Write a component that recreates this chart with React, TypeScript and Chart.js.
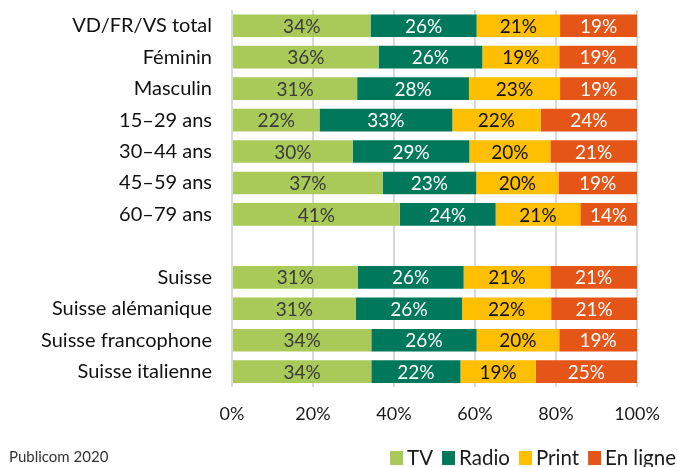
import React, { useEffect, useRef } from "react";
import { Chart, registerables } from "chart.js";

Chart.register(...registerables);

const categories = [
  "VD/FR/VS total",
  "Féminin",
  "Masculin",
  "15–29 ans",
  "30–44 ans",
  "45–59 ans",
  "60–79 ans",
  "",
  "Suisse",
  "Suisse alémanique",
  "Suisse francophone",
  "Suisse italienne",
];

const tv = [34.2, 36.2, 30.9, 21.6, 29.8, 37.2, 41.4, null, 31.0, 30.6, 34.4, 34.4];
const radio = [26.2, 25.6, 27.6, 32.8, 28.8, 23.1, 23.7, null, 26.2, 26.2, 26.0, 22.0];
const print = [20.6, 19.0, 22.5, 21.8, 20.0, 20.3, 20.9, null, 21.4, 22.0, 20.4, 18.6];
const online = [19.0, 19.2, 19.0, 23.8, 21.4, 19.4, 14.0, null, 21.4, 21.2, 19.2, 25.0];

const seriesNames = ["TV", "Radio", "Print", "En ligne"];
const seriesColors = ["#A9CA59", "#00785B", "#FDBF00", "#E65518"];
const labelColors = ["#3a3a3a", "#ffffff", "#111111", "#ffffff"];
const xTicks = [0, 20, 40, 60, 80, 100];
const sourceText = "Publicom 2020";

const FONT = "Lato, 'Noto Sans', sans-serif";

const valueLabelPlugin = {
  id: "valueLabels",
  afterDatasetsDraw(chart: any) {
    const ctx = chart.ctx;
    ctx.save();
    ctx.font = `19px ${FONT}`;
    ctx.textAlign = "center";
    ctx.textBaseline = "middle";
    chart.data.datasets.forEach((ds: any, di: number) => {
      const meta = chart.getDatasetMeta(di);
      meta.data.forEach((el: any, i: number) => {
        const v = ds.data[i];
        if (v == null) return;
        const cx = (el.x + el.base) / 2;
        ctx.fillStyle = labelColors[di];
        ctx.fillText(Math.round(v) + "%", cx, el.y + 1);
      });
    });
    ctx.restore();
  },
};

const footerPlugin = {
  id: "footer",
  afterDraw(chart: any) {
    const ctx = chart.ctx;
    ctx.save();
    ctx.font = `15px ${FONT}`;
    ctx.fillStyle = "#333333";
    ctx.textAlign = "left";
    ctx.textBaseline = "alphabetic";
    ctx.fillText(sourceText, 9, 462);
    ctx.font = `20.5px ${FONT}`;
    const box = 13;
    const gap = 4;
    const itemGap = 9;
    const widths = seriesNames.map((n) => ctx.measureText(n).width);
    const total = widths.reduce((a, w) => a + box + gap + w, 0) + itemGap * (seriesNames.length - 1);
    let x = 676 - total;
    seriesNames.forEach((n, i) => {
      ctx.fillStyle = seriesColors[i];
      ctx.fillRect(x, 451, box, 14);
      x += box + gap;
      ctx.fillStyle = "#1a1a1a";
      ctx.fillText(n, x, 465);
      x += widths[i] + itemGap;
    });
    ctx.restore();
  },
};

export default function App() {
  const ref = useRef<HTMLCanvasElement | null>(null);
  useEffect(() => {
    if (!ref.current) return;
    const allSeries = [tv, radio, print, online];
    const chart = new Chart(ref.current, {
      type: "bar",
      data: {
        labels: categories,
        datasets: allSeries.map((d, i) => ({
          label: seriesNames[i],
          data: d as any,
          backgroundColor: seriesColors[i],
          borderWidth: 0,
          barPercentage: 0.9,
          categoryPercentage: 0.8,
        })),
      },
      options: {
        indexAxis: "y",
        animation: false,
        responsive: false,
        maintainAspectRatio: false,
        layout: { padding: { top: 10, right: 40, bottom: 26, left: 0 } },
        plugins: {
          legend: { display: false },
          tooltip: { enabled: false },
        },
        scales: {
          x: {
            stacked: true,
            min: 0,
            max: 100,
            afterBuildTicks: (scale: any) => {
              scale.ticks = xTicks.map((v) => ({ value: v }));
            },
            grid: { color: "#d9d9d9", lineWidth: 2, drawTicks: false },
            border: { display: false },
            ticks: {
              padding: 16,
              color: "#1a1a1a",
              maxRotation: 0,
              font: { family: FONT, size: 18 },
              callback: (v: any) => v + "%",
            },
          },
          y: {
            stacked: true,
            afterFit: (scale: any) => {
              scale.width = 232;
              scale.paddingTop = 0;
              scale.paddingBottom = 0;
            },
            grid: { display: false, drawTicks: false },
            border: { display: false },
            ticks: {
              padding: 20,
              color: "#111111",
              font: { family: FONT, size: 20 },
              autoSkip: false,
            },
          },
        },
      },
      plugins: [valueLabelPlugin, footerPlugin],
    });
    return () => chart.destroy();
  }, []);
  return (
    <div style={{ position: "absolute", left: 0, top: 0, width: 677, height: 467, background: "#fff" }}>
      <canvas ref={ref} width={677} height={467} />
    </div>
  );
}
